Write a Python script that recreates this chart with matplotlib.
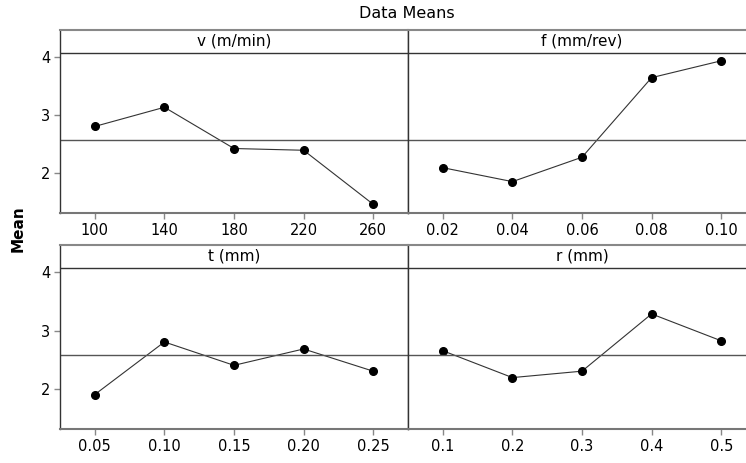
import matplotlib.pyplot as plt

# main effects data (means)
factors = ['v (m/min)', 'f (mm/rev)', 't (mm)', 'r (mm)']
levels = [
    ['100', '140', '180', '220', '260'],
    ['0.02', '0.04', '0.06', '0.08', '0.10'],
    ['0.05', '0.10', '0.15', '0.20', '0.25'],
    ['0.1', '0.2', '0.3', '0.4', '0.5'],
]
v_means = [2.81, 3.14, 2.43, 2.40, 1.47]
f_means = [2.10, 1.86, 2.28, 3.65, 3.94]
t_means = [1.91, 2.81, 2.41, 2.69, 2.31]
r_means = [2.66, 2.20, 2.31, 3.29, 2.83]
means = [v_means, f_means, t_means, r_means]
grand_mean = 2.58
yticks = [2, 3, 4]

plt.rcParams['font.family'] = 'DejaVu Sans'
fig = plt.figure(figsize=(7.46, 4.63), dpi=100)

W, H = 746, 463
edge = '#333333'
# panel boxes in pixels: left, top, width, height (including header strip)
boxes = [(60, 30, 348, 183), (408, 30, 348, 183),
         (60, 245, 348, 184), (408, 245, 348, 184)]
ylo, yhi, strip = 1.32, 4.47, 4.08

for i, (x0, y0, w, h) in enumerate(boxes):
    ax = fig.add_axes([x0 / W, 1 - (y0 + h) / H, w / W, h / H])
    xs = list(range(len(levels[i])))
    ax.plot(xs, means[i], color='#333333', lw=0.8, marker='o', ms=5.5,
            mfc='black', mec='black')
    ax.axhline(grand_mean, color='#555555', lw=1)
    ax.axhline(strip, color='#333333', lw=1)
    ax.text(0.5 * (xs[0] + xs[-1]), (strip + yhi) / 2, factors[i],
            ha='center', va='center', fontsize=11)
    ax.set_xlim(-0.5, len(xs) - 0.5)
    ax.set_ylim(ylo, yhi)
    ax.set_xticks(xs)
    ax.set_xticklabels(levels[i], fontsize=10.5)
    if i % 2 == 0:
        ax.set_yticks(yticks)
        ax.set_yticklabels([str(t) for t in yticks], fontsize=10.5)
    else:
        ax.set_yticks([])
    ax.tick_params(length=4, width=1, color='#888888', pad=3)
    for s in ax.spines.values():
        s.set_color(edge)
        s.set_linewidth(1)
    ax.spines['top'].set_color('#888888')
    ax.spines['top'].set_linewidth(1.5)
    ax.spines['bottom'].set_color('#777777')
    ax.spines['bottom'].set_linewidth(1.5)
    if i % 2 == 1:
        ax.spines['right'].set_visible(False)

fig.text(0.545, 1 - 13 / H, 'Data Means', ha='center', va='center', fontsize=11.5)
fig.text(18 / W, 1 - 229 / H, 'Mean', rotation=90, ha='center', va='center',
         fontsize=11, fontweight='bold')

fig.savefig('out.png', dpi=100)
